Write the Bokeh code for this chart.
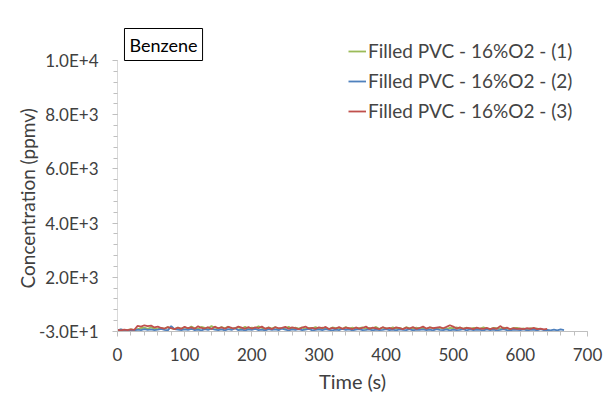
import numpy as np
from bokeh.plotting import figure
from bokeh.models import (FixedTicker, Label, Legend, LegendItem, Range1d, Title)
from bokeh.embed import file_html
from bokeh.resources import INLINE

# ---------------- data ----------------
step = 5  # sampling interval, s

conc_1 = [20, 40, 10, 30, 50, 20, 60, 90, 110, 70,
          120, 80, 60, 100, 70, 130, 90, 60, 110, 80,
          120, 70, 150, 90, 60, 140, 100, 80, 170, 110,
          70, 130, 90, 150, 60, 100, 120, 80, 140, 70,
          110, 90, 160, 100, 70, 120, 80, 130, 60, 100,
          90, 140, 70, 110, 80, 120, 60, 100, 90, 130,
          70, 110, 80, 60, 120, 90, 100, 70, 130, 80,
          110, 60, 90, 120, 70, 100, 80, 140, 60, 110,
          90, 70, 120, 80, 100, 60, 130, 90, 70, 110,
          80, 100, 60, 120, 90, 70, 110, 80, 60, 100,
          90, 120, 70, 80, 110, 60, 100, 90, 70, 120,
          80, 60, 100, 90, 70, 110, 80, 60, 90, 100,
          70, 80, 60, 90, 70, 80, 60]

conc_2 = [10, 50, 20, 0, 30, 10, 40, 20, 60, 30,
          50, 20, 40, 70, 30, 10, 170, 60, 40, 20,
          50, 30, 70, 20, 40, 10, 60, 30, 80, 40,
          20, 50, 10, 60, 30, 90, 20, 40, 10, 50,
          30, 70, 20, 40, 10, 60, 30, 50, 20, 80,
          40, 10, 50, 30, 60, 20, 40, 70, 10, 30,
          50, 20, 60, 30, 10, 40, 20, 70, 30, 50,
          10, 40, 60, 20, 30, 50, 10, 40, 20, 30,
          60, 20, 40, 10, 50, 30, 20, 60, 10, 40,
          30, 50, 20, 40, 10, 60, 30, 20, 50, 10,
          40, 20, 30, 60, 10, 50, 20, 40, 30, 10,
          50, 20, 40, 10, 30, 60, 20, 10, 40, 30,
          20, 50, 10, 30, 40, 10, 60, 20, 30, 10,
          40, 10, 50, 20]

conc_3 = [30, 10, 40, 20, 50, 30, 180, 150, 200, 170,
          190, 120, 150, 100, 80, 130, 90, 60, 110, 70,
          140, 90, 120, 70, 160, 100, 80, 130, 60, 150,
          90, 120, 70, 140, 100, 80, 150, 110, 70, 130,
          80, 120, 90, 150, 70, 110, 60, 130, 90, 100,
          140, 70, 120, 90, 60, 110, 150, 80, 100, 70,
          120, 90, 140, 60, 100, 80, 130, 70, 110, 90,
          60, 120, 80, 100, 150, 70, 110, 90, 60, 130,
          80, 100, 70, 120, 90, 60, 110, 80, 130, 70,
          100, 150, 80, 120, 90, 110, 130, 90, 140, 200,
          150, 80, 120, 70, 100, 90, 60, 110, 80, 70,
          100, 60, 90, 70, 170, 80, 110, 60, 90, 70,
          80, 60, 90, 70, 100, 60, 80, 50, 70]

series_names = ["Filled PVC - 16%O2 - (1)",
                "Filled PVC - 16%O2 - (2)",
                "Filled PVC - 16%O2 - (3)"]
series_colors = ["#9BBB59", "#4F81BD", "#C0504D"]

y_ticks = [-30, 1970, 3970, 5970, 7970, 9970]
y_tick_labels = ["-3.0E+1", "2.0E+3", "4.0E+3", "6.0E+3", "8.0E+3", "1.0E+4"]
x_ticks = [0, 100, 200, 300, 400, 500, 600, 700]

FONT = "Lato"
GRAY = "#BFBFBF"

# frame: left 117, right 587, top 25 (extra headroom for box/legend), bottom 331
y_top = 9970 + 35 * 10000 / 271
p = figure(width=603, height=398, output_backend="svg", toolbar_location=None,
           x_range=Range1d(0, 700), y_range=Range1d(-30, y_top),
           min_border_left=117, min_border_right=16,
           min_border_top=25, min_border_bottom=67)
p.xgrid.grid_line_color = None
p.ygrid.grid_line_color = None
p.outline_line_color = None

renderers = []
for vals, col in zip([conc_1, conc_2, conc_3], series_colors):
    t = np.arange(len(vals)) * step
    r = p.line(t, vals, line_color=col, line_width=1.8)
    renderers.append(r)

# axes
p.xaxis.ticker = FixedTicker(ticks=x_ticks,
                             minor_ticks=list(range(0, 701, 20)))
p.yaxis.ticker = FixedTicker(ticks=y_ticks,
                             minor_ticks=[y_ticks[0] + 400 * i for i in range(26)])
p.yaxis.major_label_overrides = {t: l for t, l in zip(y_ticks, y_tick_labels)}
p.yaxis.bounds = (y_ticks[0], y_ticks[-1])
p.xaxis.bounds = (x_ticks[0], x_ticks[-1])

for ax in (p.xaxis[0], p.yaxis[0]):
    ax.major_tick_line_color = GRAY
    ax.minor_tick_line_color = GRAY
    ax.major_tick_out = 5
    ax.major_tick_in = 0
    ax.minor_tick_out = 4
    ax.minor_tick_in = 0
    ax.major_label_text_font = FONT
    ax.major_label_text_font_size = "17px"
    ax.major_label_text_color = "#404040"
    ax.axis_label_text_font = FONT
    ax.axis_label_text_font_size = "20px"
    ax.axis_label_text_font_style = "normal"
    ax.axis_label_text_color = "#404040"
p.xaxis.major_label_standoff = 11
p.yaxis.major_label_standoff = 14
p.xaxis.axis_line_color = GRAY
p.yaxis.axis_line_color = "#D9D9D9"

p.xaxis.axis_label = "Time (s)"
p.xaxis.axis_label_standoff = 5

# y-axis title as a side title so it can be centred on the -30..9970 span
ytitle = Title(text="Concentration (ppmv)", align="left", offset=43,
               text_font=FONT, text_font_size="19px",
               text_font_style="normal", text_color="#404040")
ytitle.standoff = -6
p.add_layout(ytitle, "left")

# Benzene box
lbl = Label(x=10.4, y=y_ticks[-1], text="Benzene", text_font=FONT,
            text_font_size="18px", text_color="black",
            text_align="left", text_baseline="bottom",
            border_line_color="black", border_line_width=1,
            background_fill_color="white", padding=5)
p.add_layout(lbl)

legend = Legend(items=[LegendItem(label=n, renderers=[r])
                       for n, r in zip(series_names, renderers)],
                location=(231, 209), background_fill_alpha=0,
                border_line_color=None, label_text_font=FONT,
                label_text_font_size="19px", glyph_width=18,
                glyph_height=20, spacing=7, label_standoff=2,
                padding=0, margin=0)
p.add_layout(legend)

open("out.html", "w").write(file_html(p, INLINE))
